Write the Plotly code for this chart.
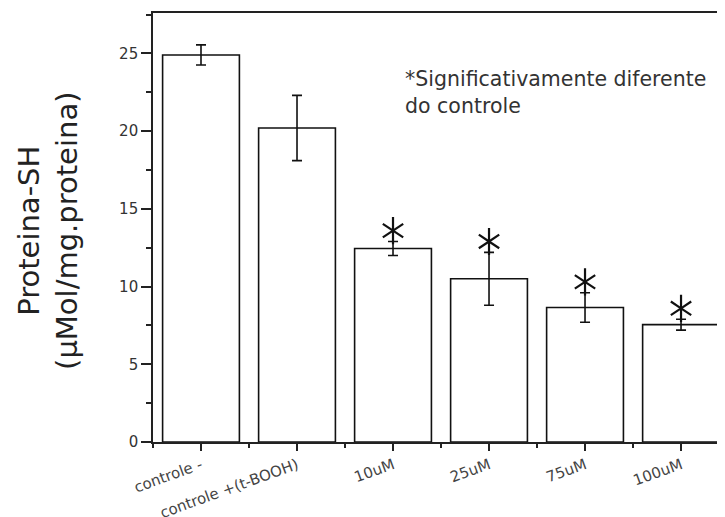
import plotly.graph_objects as go

categories = ["controle -", "controle +(t-BOOH)", "10uM", "25uM", "75uM", "100uM"]
means = [24.9, 20.2, 12.45, 10.5, 8.65, 7.55]
errors = [0.65, 2.1, 0.45, 1.7, 0.95, 0.35]
significant = [False, False, True, True, True, True]
y_ticks = [0, 5, 10, 15, 20, 25]

x_pos = list(range(len(categories)))
font_family = "DejaVu Sans"

fig = go.Figure()
fig.add_trace(go.Bar(
    x=x_pos, y=means, width=0.8,
    marker=dict(color="white", line=dict(color="#111", width=1.6)),
    error_y=dict(type="data", array=errors, visible=True, color="#111", thickness=1.6, width=5),
    showlegend=False,
))

sig_x = [x for x, s in zip(x_pos, significant) if s]
sig_y = [m + e + 0.7 for m, e, s in zip(means, errors, significant) if s]
for sym in ["y-up-open", "y-down-open"]:
    fig.add_trace(go.Scatter(
        x=sig_x, y=sig_y, mode="markers",
        marker=dict(symbol=sym, size=17, color="#111", line=dict(color="#111", width=2.2)),
        showlegend=False, hoverinfo="skip",
    ))

# the page body adds an 8px offset, so the figure is sized to fit the 725x517 window
fig.update_layout(
    width=717, height=509,
    margin=dict(l=145, r=0, t=5, b=75, autoexpand=False),
    paper_bgcolor="white", plot_bgcolor="white",
    font=dict(family=font_family, color="#333"),
    bargap=0.2,
)
fig.update_xaxes(
    range=[-0.5, 5.458], automargin=False,
    tickvals=x_pos, ticktext=categories, tickangle=-20,
    tickfont=dict(size=15, color="#444"),
    ticks="outside", ticklen=7, tickcolor="#222", tickwidth=1.5,
    minor=dict(ticks="outside", ticklen=4, tick0=0.5, dtick=1, tickcolor="#222", tickwidth=1.5),
    showline=True, linecolor="#222", linewidth=1.6, mirror=True,
    showgrid=False, zeroline=False,
)
fig.update_yaxes(
    range=[0, 27.6], automargin=False,
    tickvals=y_ticks,
    tickfont=dict(size=15, color="#333"),
    ticks="outside", ticklen=10, tickcolor="#222", tickwidth=1.5,
    minor=dict(ticks="outside", ticklen=5, tick0=0, dtick=2.5, tickcolor="#222", tickwidth=1.5),
    showline=True, linecolor="#222", linewidth=1.6,
    showgrid=False, zeroline=False,
)

fig.add_annotation(
    xref="paper", yref="paper", x=0, y=0.492, xshift=-105,
    xanchor="center", yanchor="middle", textangle=-90,
    text="Proteina-SH<br>(µMol/mg.proteina)", showarrow=False,
    font=dict(size=29, color="#222", family=font_family),
)
fig.add_annotation(
    xref="paper", yref="paper", x=0, y=1, xshift=250, yshift=-52,
    xanchor="left", yanchor="top", align="left",
    text="*Significativamente diferente<br>do controle", showarrow=False,
    font=dict(size=20.5, color="#333", family=font_family),
)

fig.write_html("out.html")
